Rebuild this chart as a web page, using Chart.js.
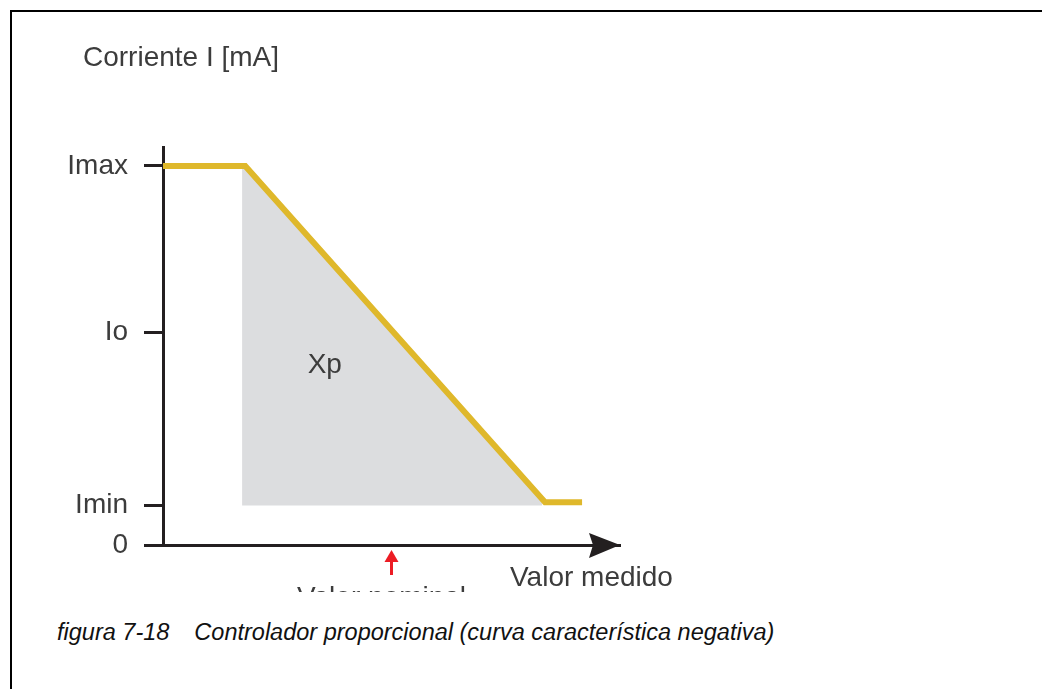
<!DOCTYPE html>
<html>
<head>
<meta charset="utf-8">
<script src="https://cdn.jsdelivr.net/npm/chart.js@4.4.1/dist/chart.umd.min.js"></script>
<style>
    body { margin: 0; background: #fff; }
    #page { position: relative; width: 1042px; height: 689px; overflow: hidden; }
    .rule { position: absolute; background: #000; }
    #chart { position: absolute; left: 0; top: 0; }
    .caption {
        position: absolute; left: 57px; top: 619px;
        font: italic 23.5px/26px "Liberation Sans", Arial, sans-serif;
        color: #111; white-space: pre;
    }
    .caption span + span { margin-left: 25px; }
</style>
</head>
<body>
<div id="page">
    <div class="rule" style="left:10px; top:10px; width:1032px; height:2px;"></div>
    <div class="rule" style="left:10px; top:10px; width:2px; height:679px;"></div>
    <canvas id="chart" width="1042" height="592"></canvas>
    <div class="caption"><span>figura 7-18</span><span>Controlador proporcional (curva característica negativa)</span></div>
</div>
<script>
// curva característica: corriente frente a valor medido
const curveX = [0, 18, 83.6, 91.7];
const curveY = [100, 100, 11.3, 11.3];
// banda proporcional Xp (zona gris bajo la pendiente)
const bandX = [17.3, 18, 83.0];
const bandY = [100, 100, 12.1];
const bandBase = 10.4;

const tickValues = [0, 10.4, 56, 100];
const tickLabels = ['0', 'Imin', 'Io', 'Imax'];
const nominalValue = 50;

const FONT = '"Liberation Sans", Arial, sans-serif';
const axisColor = '#231f20';
const textColor = '#3c3c3c';

Chart.defaults.font.family = FONT;

// flechas y rótulos que no son parte de las escalas
const decorations = {
    id: 'decorations',
    afterDraw(chart) {
        const { ctx, chartArea, scales: { x, y } } = chart;
        const right = chartArea.right;
        const bottom = chartArea.bottom;
        ctx.save();

        // punta de flecha del eje de valor medido
        ctx.fillStyle = axisColor;
        ctx.beginPath();
        ctx.moveTo(right, bottom);
        ctx.lineTo(right - 31, bottom - 12);
        ctx.lineTo(right - 27, bottom);
        ctx.lineTo(right - 31, bottom + 13);
        ctx.closePath();
        ctx.fill();

        // flecha roja del valor nominal
        const nx = x.getPixelForValue(nominalValue);
        ctx.fillStyle = '#ec1c24';
        ctx.beginPath();
        ctx.moveTo(nx, bottom + 5);
        ctx.lineTo(nx - 7, bottom + 17);
        ctx.lineTo(nx + 7, bottom + 17);
        ctx.closePath();
        ctx.fill();
        ctx.fillRect(nx - 1.5, bottom + 16, 3, 14);

        ctx.fillStyle = textColor;
        ctx.font = '28px ' + FONT;
        ctx.textBaseline = 'alphabetic';

        ctx.textAlign = 'left';
        ctx.fillText('Corriente I [mA]', 83, 66);
        ctx.fillText('Valor medido', right - 110, bottom + 41);

        ctx.textAlign = 'center';
        ctx.fillText('Xp', x.getPixelForValue(35.4), y.getPixelForValue(45.4));
        // queda cortado por el borde inferior del lienzo
        ctx.fillText('Valor nominal', nx - 10, bottom + 61);

        ctx.restore();
    }
};

const ctx = document.getElementById('chart').getContext('2d');
const chart = new Chart(ctx, {
    type: 'line',
    data: {
        datasets: [{
            label: 'I',
            data: curveX.map((v, i) => ({ x: v, y: curveY[i] })),
            borderColor: '#dfb82b',
            borderWidth: 6,
            borderJoinStyle: 'miter',
            borderCapStyle: 'butt',
            pointRadius: 0,
            tension: 0,
            fill: false
        }, {
            label: 'Xp',
            data: bandX.map((v, i) => ({ x: v, y: bandY[i] })),
            borderWidth: 0,
            pointRadius: 0,
            backgroundColor: '#dcdddf',
            fill: { value: bandBase }
        }]
    },
    options: {
        responsive: false,
        animation: false,
        layout: {
            padding: { left: 0, top: 147, right: 422, bottom: 47 }
        },
        plugins: {
            legend: { display: false },
            tooltip: { enabled: false }
        },
        scales: {
            x: {
                type: 'linear',
                min: 0,
                max: 100,
                ticks: { display: false },
                grid: { display: false },
                border: { color: axisColor, width: 3 },
                afterFit(scale) { scale.height = 0; }
            },
            y: {
                min: 0,
                max: 105,
                afterBuildTicks(scale) {
                    scale.ticks = tickValues.map(v => ({ value: v }));
                },
                afterFit(scale) { scale.width = 163; },
                ticks: {
                    color: textColor,
                    font: { size: 28 },
                    padding: 16,
                    callback: (value, index) => tickLabels[index]
                },
                grid: {
                    drawOnChartArea: false,
                    tickLength: 19,
                    lineWidth: 3,
                    color: axisColor
                },
                border: { color: axisColor, width: 3 }
            }
        }
    },
    plugins: [decorations]
});
</script>
</body>
</html>
